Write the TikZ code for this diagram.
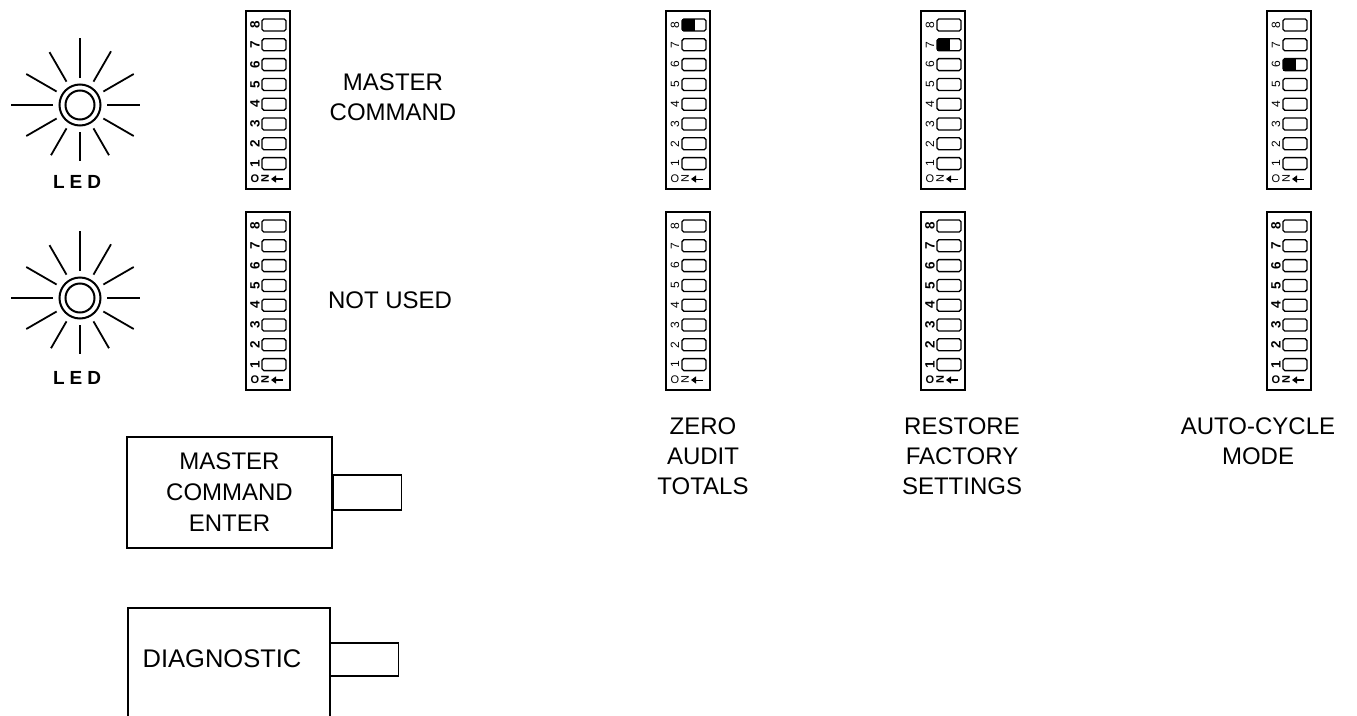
\documentclass[tikz,border=0pt]{standalone}
\usepackage{fontspec}
\setmainfont{Liberation Sans}
\setsansfont{Liberation Sans}
\usetikzlibrary{arrows.meta,calc}
\tikzset{
  x=1pt, y=1pt,
  boxline/.style={draw, line width=1.5pt},
  swrect/.style={draw, line width=1.3pt, rounded corners=1.8pt},
  ray/.style={line width=1.8pt},
  ring/.style={draw, line width=2pt},
  lbl/.style={font=\fontsize{24}{30}\selectfont, align=center, inner sep=0pt},
  ledlbl/.style={font=\fontsize{19}{19}\selectfont\bfseries, inner sep=0pt},
  digit/.style={rotate=90, inner sep=0pt},
  btn/.style={draw, line width=1.4pt},
}
% #1 name, #2 x, #3 y (down), #4 filled index, #5 digit font, #6 arrow line width
\newcommand\DipBox[6]{%
  \draw[boxline] (#2,-#3) rectangle ++(44,-178);
  \foreach \k in {1,...,8} {
    \pgfmathsetmacro\yy{-(#3+14+(8-\k)*19.8)}
    \node[digit, font=#5] (#1-d\k) at (#2+9,\yy) {\k};
    \ifnum\k=#4\relax
      \fill (#2+16,\yy-6) rectangle (#2+29,\yy+6);
    \fi
    \draw[swrect] (#2+16,\yy-6) rectangle (#2+40,\yy+6);
  }
  \node[font=#5, inner sep=0pt] (#1-o) at (#2+9,-#3-168) {\fontsize{11}{11}\selectfont O};
  \node[digit, font=#5] (#1-n) at (#2+19,-#3-168) {\fontsize{11}{11}\selectfont N};
  \coordinate (#1-a1) at (#2+37,-#3-168);
  \coordinate (#1-a2) at (#2+25,-#3-168);
  \draw[line width=#6, -{Triangle[length=5pt,width=7pt]}] (#1-a1) -- (#1-a2);
}
\newcommand\LedSym[3]{% #1 name, #2 x, #3 y(down)
  \coordinate (#1) at (#2,-#3);
  \draw[ring] (#1) circle (20.5);
  \draw[ring] (#1) circle (14.5);
  \foreach \a/\r in {0/60, 30/62, 60/62, 90/67, 120/61, 150/62, 180/69, 210/62, 240/58, 270/56, 300/58, 330/62}
    \draw[ray] ($(#1)+(\a:27)$) -- ($(#1)+(\a:\r)$);
}
\begin{document}
\begin{tikzpicture}
\useasboundingbox (0,0) rectangle (1357,-715);

% LEDs
\LedSym{led1}{80}{105}
\node[ledlbl] (led1-t) at (77,-182) {L\hspace{5pt}E\hspace{5pt}D};
\LedSym{led2}{80}{298}
\node[ledlbl] (led2-t) at (77,-378) {L\hspace{5pt}E\hspace{5pt}D};

% DIP switches
\DipBox{s11}{246}{11}{0}{\fontsize{13.5}{13.5}\selectfont\bfseries}{1.8pt}
\DipBox{s12}{246}{212}{0}{\fontsize{13.5}{13.5}\selectfont\bfseries}{1.8pt}
\DipBox{s21}{666}{11}{8}{\fontsize{12}{12}\selectfont}{1pt}
\DipBox{s22}{666}{212}{0}{\fontsize{12}{12}\selectfont}{1pt}
\DipBox{s31}{921}{11}{7}{\fontsize{12}{12}\selectfont}{1pt}
\DipBox{s32}{921}{212}{0}{\fontsize{13.5}{13.5}\selectfont\bfseries}{1.8pt}
\DipBox{s41}{1267}{11}{6}{\fontsize{12}{12}\selectfont}{1pt}
\DipBox{s42}{1267}{212}{0}{\fontsize{13.5}{13.5}\selectfont\bfseries}{1.8pt}

% labels
\node[lbl] (mc) at (393,-97) {MASTER\\COMMAND};
\node[lbl] (nu) at (390,-300) {NOT USED};
\node[lbl, anchor=north] (zat) at (703,-418) {ZERO\\AUDIT\\TOTALS};
\node[lbl, anchor=north] (rfs) at (962,-418) {RESTORE\\FACTORY\\SETTINGS};
\node[lbl, anchor=north] (acm) at (1258,-418) {AUTO-CYCLE\\MODE};

% buttons
\node[btn, minimum width=205pt, minimum height=111pt, inner sep=0pt, align=center,
      font=\fontsize{24}{31}\selectfont] (mce) at (229.5,-492.5) {MASTER\\COMMAND\\ENTER};
\node[btn, anchor=west, minimum width=68pt, minimum height=35pt, inner sep=0pt] (mce-key) at (mce.east) {};

\coordinate (dg-bl) at (128,-716);
\coordinate (dg-tl) at (128,-608);
\coordinate (dg-tr) at (330,-608);
\coordinate (dg-br) at (330,-716);
\draw[line width=1.4pt] (dg-bl) -- (dg-tl) -- (dg-tr) -- (dg-br);
\node[font=\fontsize{25.5}{30}\selectfont, inner sep=0pt] (dg) at (222,-659) {DIAGNOSTIC};
\node[btn, anchor=west, minimum width=68pt, minimum height=33pt, inner sep=0pt] (dg-key) at (330,-659.5) {};
\end{tikzpicture}
\end{document}
